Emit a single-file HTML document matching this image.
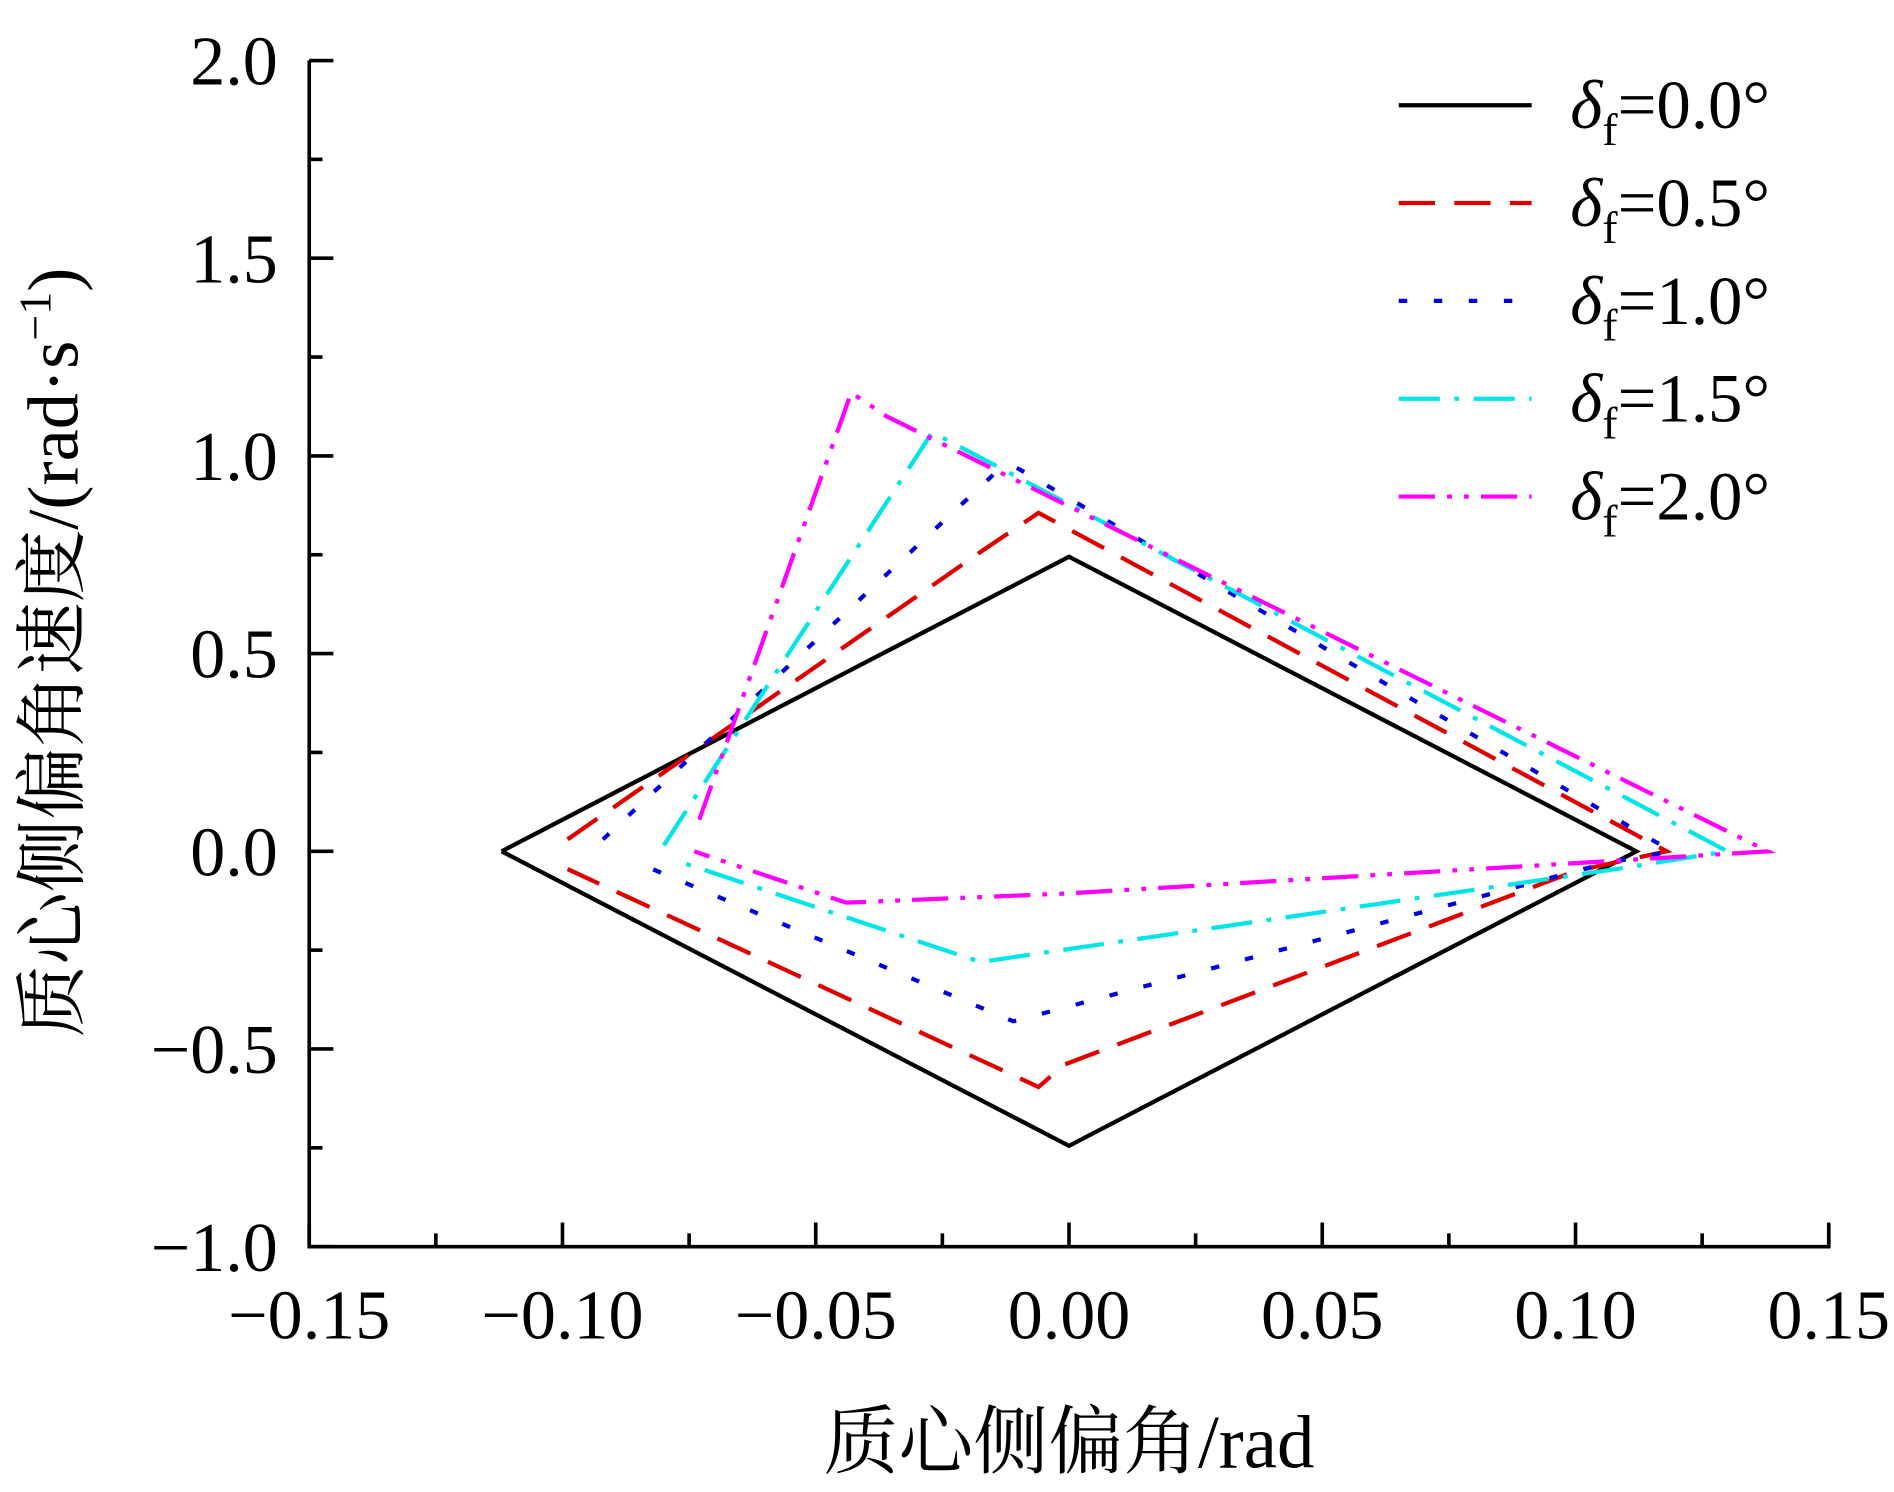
<!DOCTYPE html>
<html><head><meta charset="utf-8"><style>
html,body{margin:0;padding:0;background:#fff;}
svg{display:block;}
text{font-family:"Liberation Serif","Noto Serif CJK SC",serif;fill:#000;}
</style></head><body>
<svg id="chart" width="1894" height="1492" viewBox="0 0 1568 1235" xmlns="http://www.w3.org/2000/svg">
<g id="plot"></g>
<g id="axes"></g>
<g id="legend"></g>
<text x="885" y="1215" text-anchor="middle" font-size="62">质心侧偏角/rad</text>
<text transform="translate(64,540) rotate(-90)" text-anchor="middle" font-size="60">质心侧偏角速度/(rad·s<tspan dy="-22" font-size="38">−1</tspan><tspan dy="22">)</tspan></text>
</svg>
<script>
const xTicks=[-0.15,-0.10,-0.05,0.00,0.05,0.10,0.15];
const xTickLabels=["−0.15","−0.10","−0.05","0.00","0.05","0.10","0.15"];
const yTicks=[-1.0,-0.5,0.0,0.5,1.0,1.5,2.0];
const yTickLabels=["−1.0","−0.5","0.0","0.5","1.0","1.5","2.0"];
const seriesNames=["δf=0.0°","δf=0.5°","δf=1.0°","δf=1.5°","δf=2.0°"];
const s0x=[-0.112,0,0.112,0,-0.112];
const s0y=[0,0.745,0,-0.745,0];
const s1x=[-0.099,-0.0167,-0.006,0.118,0.100,-0.001,-0.006,-0.099];
const s1y=[0.03,0.764,0.856,0,-0.05,-0.54,-0.596,-0.045];
const s2x=[-0.092,-0.0143,-0.011,0.119,0.106,-0.011,-0.085];
const s2y=[0.03,0.96,0.975,0,-0.03,-0.43,-0.03];
const s3x=[-0.080,-0.027,0.130,0.108,-0.0175,-0.076];
const s3y=[0.015,1.06,0,-0.045,-0.28,-0.03];
const s4x=[-0.073,-0.043,-0.036,0.138,0.100,-0.001,-0.044,-0.074];
const s4y=[0.08,1.16,1.10,0,-0.03,-0.107,-0.13,0];
const colors=["#000","#e00000","#0000e0","#00e5e5","#ff00ff"];
const dashes=["none","30 16","7 22","34 12 4 12","30 10 4 10 4 10"];
const NS="http://www.w3.org/2000/svg";
const X0=256,X1=1514,Y0=1032,Y1=50;
const sx=v=>X0+(v+0.15)/0.3*(X1-X0);
const sy=v=>Y0-(v+1)/3*(Y0-Y1);
function mk(t,a,p){const e=document.createElementNS(NS,t);for(const k in a)e.setAttribute(k,a[k]);p.appendChild(e);return e;}
const plot=document.getElementById('plot'),axes=document.getElementById('axes'),leg=document.getElementById('legend');
const allX=[s0x,s1x,s2x,s3x,s4x],allY=[s0y,s1y,s2y,s3y,s4y];
allX.forEach((xs,i)=>{
  const d=xs.map((v,j)=>(j?'L':'M')+sx(v).toFixed(1)+','+sy(allY[i][j]).toFixed(1)).join(' ');
  const p=mk('path',{d:d,fill:'none',stroke:colors[i],'stroke-width':3.5,'stroke-dasharray':dashes[i],'stroke-linejoin':'miter'},plot);
  
  
});
let a=mk('path',{d:`M${X0},${Y1} L${X0},${Y0} L${X1},${Y0} L${X1},${Y0-18}`,fill:'none',stroke:'#000','stroke-width':3},axes);


xTicks.forEach((v,i)=>{
  mk('line',{x1:sx(v),x2:sx(v),y1:Y0,y2:Y0-20,stroke:'#000','stroke-width':3},axes);
  if(i<xTicks.length-1){const m=sx(v+0.025);mk('line',{x1:m,x2:m,y1:Y0,y2:Y0-11,stroke:'#000','stroke-width':3},axes);}
  const t=mk('text',{x:sx(v),y:Y0+76,'text-anchor':'middle','font-size':58},axes);
  t.textContent=xTickLabels[i];
  
  
});
yTicks.forEach((v,i)=>{
  mk('line',{x1:X0,x2:X0+20,y1:sy(v),y2:sy(v),stroke:'#000','stroke-width':3},axes);
  if(i<yTicks.length-1){const m=sy(v+0.25);mk('line',{x1:X0,x2:X0+11,y1:m,y2:m,stroke:'#000','stroke-width':3},axes);}
  const t=mk('text',{x:X0-26,y:sy(v)+20,'text-anchor':'end','font-size':58},axes);
  t.textContent=yTickLabels[i];
  
  
});
seriesNames.forEach((n,i)=>{
  const y=87+i*81;
  const l=mk('line',{x1:1158,x2:1268,y1:y,y2:y,stroke:colors[i],'stroke-width':3.5,'stroke-dasharray':dashes[i]},leg);
  
  
  const t=mk('text',{x:1300,y:y+19,'font-size':57},leg);
  
  
  const s1=mk('tspan',{'font-style':'italic'},t);s1.textContent='δ';
  const s2=mk('tspan',{dy:14,'font-size':38},t);s2.textContent='f';
  const s3=mk('tspan',{dy:-14},t);s3.textContent=n.slice(2);
});
</script>
</body></html>
